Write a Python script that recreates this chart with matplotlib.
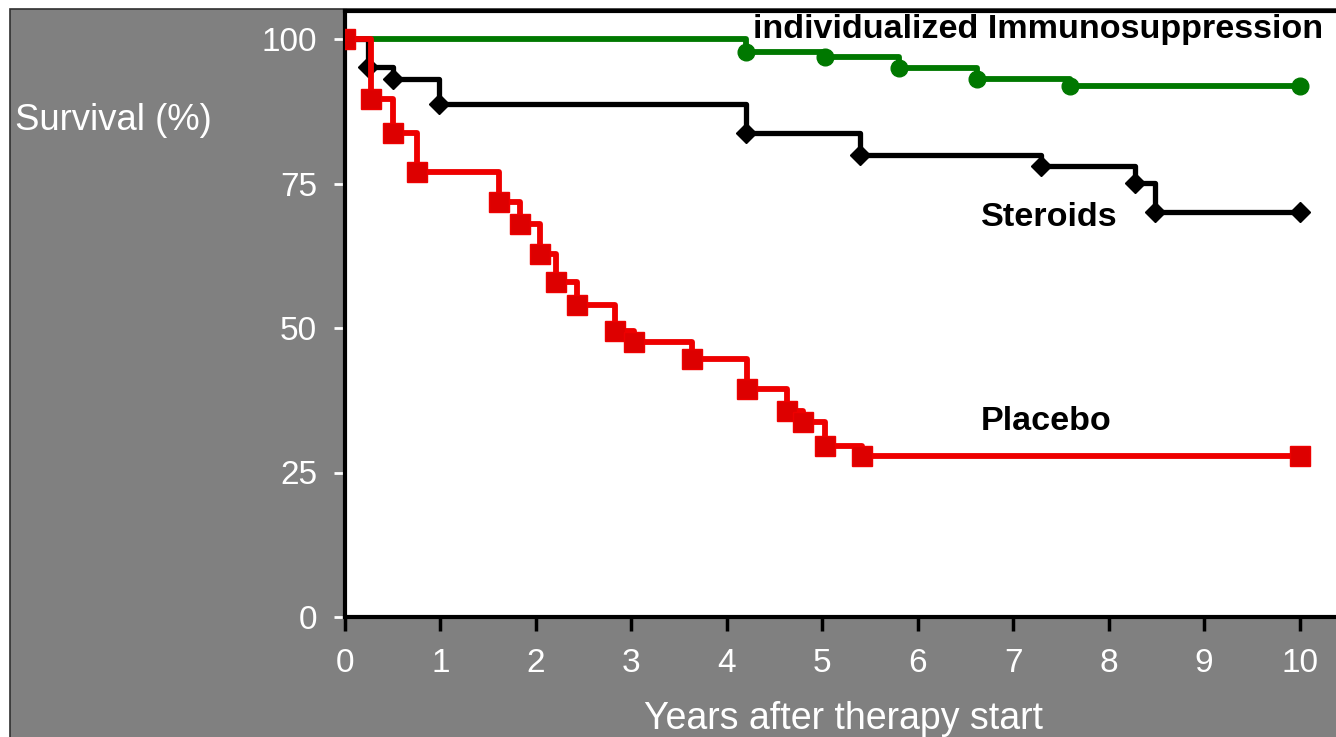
import matplotlib
matplotlib.use('Agg')
from matplotlib import pyplot as plt
from matplotlib.patches import Rectangle

# Kaplan-Meier style survival curves
placebo_years = [0, 0.27, 0.5, 0.75, 1.61, 1.83, 2.04, 2.21, 2.43, 2.83, 3.03,
                 3.64, 4.21, 4.63, 4.8, 5.03, 5.42, 10]
placebo_surv = [100, 89.6, 83.7, 77, 71.8, 68, 62.8, 58, 54, 49.4, 47.6,
                44.6, 39.5, 35.6, 33.7, 29.6, 27.8, 27.8]

steroid_years = [0, 0.24, 0.5, 0.98, 4.2, 5.4, 7.29, 8.28, 8.49, 10]
steroid_surv = [100, 95.1, 93.1, 88.7, 83.8, 80, 78.1, 75.1, 70, 70]

indiv_years = [0, 4.2, 5.03, 5.8, 6.62, 7.6, 10]
indiv_surv = [100, 97.8, 96.9, 94.9, 93.1, 91.9, 91.9]

x_ticks = [0, 1, 2, 3, 4, 5, 6, 7, 8, 9, 10]
y_ticks = [0, 25, 50, 75, 100]

GRAY = '#808080'
RED = '#ee0000'
GREEN = '#007800'
FONT = 'Liberation Sans'

W, H = 1336, 737
fig = plt.figure(figsize=(W / 100, H / 100), dpi=100, facecolor='white')

# grey panel with a thin dark frame, offset from the top-left corner
panel = Rectangle((10 / W, -0.01), 1.0, 1 - 9 / H + 0.01,
                  transform=fig.transFigure, facecolor=GRAY,
                  edgecolor='#303030', linewidth=1.2, zorder=-5)
fig.patches.append(panel)

ax = fig.add_axes([345 / W, 120 / H, 1 - 345 / W, (617 - 11) / H])
ax.set_zorder(2)
ax.set_facecolor('white')

ax.step(indiv_years, indiv_surv, where='post', color=GREEN, lw=4.2, zorder=2)
ax.plot(indiv_years, indiv_surv, 'o', color=GREEN, ms=12, zorder=2)

ax.step(steroid_years, steroid_surv, where='post', color='black', lw=3.8, zorder=3)
ax.plot(steroid_years, steroid_surv, 'D', color='black', ms=10, zorder=3)

ax.step(placebo_years, placebo_surv, where='post', color=RED, lw=4.2, zorder=4)
ax.plot(placebo_years, placebo_surv, 's', color='#dd0000', mec=RED, ms=15, zorder=4)

ax.set_xlim(0, (W - 345) / 95.45)
ax.set_ylim(0, 100 + 28 / 5.78)

ax.set_xticks(x_ticks)
ax.set_yticks(y_ticks)
ax.tick_params(axis='x', colors='black', width=2.5, length=10, pad=12,
               labelcolor='white', labelsize=24)
ax.tick_params(axis='y', colors='white', width=2, length=8, pad=12,
               labelcolor='white', labelsize=24)

for side in ['left', 'bottom', 'top']:
    ax.spines[side].set_linewidth(3)
    ax.spines[side].set_color('black')
ax.spines['right'].set_visible(False)

ax.text(4.27, 101.7, 'individualized Immunosuppression', fontsize=24.6,
        fontweight='bold', family=FONT, va='center', ha='left')
ax.text(6.66, 69.2, 'Steroids', fontsize=24.6, fontweight='bold',
        family=FONT, va='center', ha='left')
ax.text(6.66, 33.9, 'Placebo', fontsize=24.6, fontweight='bold',
        family=FONT, va='center', ha='left')

fig.text(15 / W, 1 - 121 / H, 'Survival (%)', color='white', fontsize=26.3,
         family=FONT, va='center', ha='left')
# the reference crops this label at the bottom edge; keep it just inside
fig.text(844 / W, 1 - 729 / H, 'Years after therapy start', color='white',
         fontsize=27, family=FONT, va='baseline', ha='center')

for lbl in ax.get_xticklabels() + ax.get_yticklabels():
    lbl.set_family(FONT)

fig.savefig('out.png', dpi=100, facecolor='white')
